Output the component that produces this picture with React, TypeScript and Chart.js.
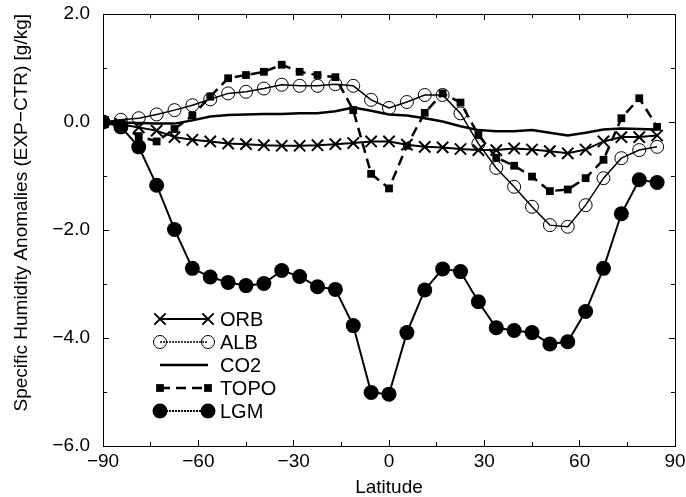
import React, { useEffect, useRef } from "react";
import { Chart, registerables } from "chart.js";
import { drawPoint } from "chart.js/helpers";

Chart.register(...registerables);

// ---------------- data ----------------
const latitudes = [
  -90, -84.375, -78.75, -73.125, -67.5, -61.875, -56.25, -50.625, -45, -39.375,
  -33.75, -28.125, -22.5, -16.875, -11.25, -5.625, 0, 5.625, 11.25, 16.875,
  22.5, 28.125, 33.75, 39.375, 45, 50.625, 56.25, 61.875, 67.5, 73.125, 78.75, 84.375,
];

const orbValues = [
  0, -0.04, -0.1, -0.16, -0.28, -0.33, -0.36, -0.4, -0.41, -0.43,
  -0.44, -0.44, -0.43, -0.41, -0.39, -0.36, -0.36, -0.42, -0.46, -0.47,
  -0.5, -0.52, -0.52, -0.49, -0.51, -0.54, -0.58, -0.51, -0.36, -0.28, -0.28, -0.25,
];

const albValues = [
  0, 0.04, 0.07, 0.14, 0.22, 0.31, 0.42, 0.53, 0.56, 0.62,
  0.69, 0.67, 0.67, 0.7, 0.67, 0.41, 0.26, 0.37, 0.5, 0.5,
  0.16, -0.4, -0.85, -1.2, -1.57, -1.91, -1.94, -1.54, -1.04, -0.67, -0.52, -0.46,
];

const co2Values = [
  0, -0.01, -0.02, -0.03, -0.03, 0.03, 0.1, 0.13, 0.14, 0.15,
  0.15, 0.16, 0.16, 0.2, 0.27, 0.21, 0.14, 0.12, 0.07, 0.01,
  -0.08, -0.15, -0.17, -0.17, -0.15, -0.2, -0.25, -0.2, -0.14, -0.12, -0.13, -0.14,
];

const topoValues = [
  0, -0.08, -0.26, -0.36, -0.13, 0.12, 0.47, 0.81, 0.87, 0.93,
  1.06, 0.93, 0.87, 0.83, 0.22, -0.96, -1.23, -0.44, 0.17, 0.53,
  0.36, -0.24, -0.66, -0.81, -1.01, -1.28, -1.25, -1.04, -0.7, 0.07, 0.44, -0.09,
];

const lgmValues = [
  0, -0.09, -0.46, -1.17, -1.99, -2.71, -2.87, -2.97, -3.03, -2.99,
  -2.75, -2.86, -3.05, -3.1, -3.77, -5.01, -5.04, -3.9, -3.11, -2.72,
  -2.77, -3.33, -3.81, -3.86, -3.9, -4.11, -4.07, -3.51, -2.71, -1.7, -1.07, -1.12,
];

const seriesNames = ["ORB", "ALB", "CO2", "TOPO", "LGM"];
const xAxisTitle = "Latitude";
const yAxisTitle = "Specific Humidity Anomalies (EXP\u2212CTR) [g/kg]";
const xRange = [-90, 90];
const yRange = [-6, 2];

// ---------------- helpers ----------------
const FONT = "'Liberation Sans', Arial, Helvetica, sans-serif";
const toPoints = (vals: number[]) => vals.map((v, i) => ({ x: latitudes[i], y: v }));
const minusSign = (s: string) => s.replace("-", "\u2212");

const zeroPad = (s: any) => {
  s.paddingTop = 0;
  s.paddingBottom = 0;
  s.paddingLeft = 0;
  s.paddingRight = 0;
};

const insideLegend = {
  id: "insideLegend",
  afterDatasetsDraw(chart: any) {
    const { ctx, chartArea } = chart;
    const x0 = chartArea.left + 57;
    const x1 = chartArea.left + 105;
    const tx = chartArea.left + 117;
    const y0 = chartArea.top + 305;
    const step = 23;
    chart.data.datasets.forEach((ds: any, i: number) => {
      const y = y0 + i * step;
      ctx.save();
      ctx.strokeStyle = ds.borderColor;
      ctx.lineWidth = ds.borderWidth;
      ctx.setLineDash(ds.legendDash || ds.borderDash || []);
      ctx.beginPath();
      ctx.moveTo(x0, y);
      ctx.lineTo(x1, y);
      ctx.stroke();
      ctx.setLineDash([]);
      if (ds.pointRadius > 0) {
        ctx.fillStyle = ds.pointBackgroundColor;
        ctx.strokeStyle = ds.pointBorderColor;
        ctx.lineWidth = ds.pointBorderWidth;
        const opts = {
          pointStyle: ds.pointStyle,
          radius: ds.pointRadius,
          borderWidth: ds.pointBorderWidth,
          rotation: 0,
        };
        drawPoint(ctx, opts as any, x0, y);
        drawPoint(ctx, opts as any, x1, y);
      }
      ctx.fillStyle = "#000";
      ctx.font = `20px ${FONT}`;
      ctx.textAlign = "left";
      ctx.textBaseline = "middle";
      ctx.fillText(ds.label, tx, y + 1);
      ctx.restore();
    });
  },
};

function tickAxis(position: string, step: number, len: number, weight: number, extra: any = {}) {
  const horizontal = position === "top" || position === "bottom";
  return {
    type: "linear",
    position,
    weight,
    min: horizontal ? xRange[0] : yRange[0],
    max: horizontal ? xRange[1] : yRange[1],
    ticks: { stepSize: step, display: false },
    grid: {
      drawOnChartArea: false,
      drawTicks: true,
      tickLength: -len,
      color: "#000",
      tickWidth: 1,
    },
    border: { display: false },
    afterFit: (s: any) => {
      if (horizontal) s.height = 0;
      else s.width = 0;
      zeroPad(s);
    },
    ...extra,
  };
}

export default function App() {
  const ref = useRef<HTMLCanvasElement>(null);

  useEffect(() => {
    document.body.style.margin = "0";
    const canvas = ref.current;
    if (!canvas) return;

    const chart = new Chart(canvas, {
      type: "line",
      data: {
        datasets: [
          {
            label: seriesNames[0],
            data: toPoints(orbValues),
            borderColor: "#000",
            borderWidth: 2,
            pointStyle: "crossRot",
            pointRadius: 8,
            pointBorderWidth: 2,
            pointBorderColor: "#000",
            pointBackgroundColor: "rgba(0,0,0,0)",
            order: 4,
          },
          {
            label: seriesNames[1],
            data: toPoints(albValues),
            borderColor: "#000",
            borderWidth: 1.5,
            pointStyle: "circle",
            pointRadius: 6.5,
            pointBorderWidth: 1,
            pointBorderColor: "#000",
            pointBackgroundColor: "rgba(0,0,0,0)",
            legendDash: [2, 1],
            order: 3,
          },
          {
            label: seriesNames[2],
            data: toPoints(co2Values),
            borderColor: "#000",
            borderWidth: 2.5,
            pointRadius: 0,
            order: 2,
          },
          {
            label: seriesNames[3],
            data: toPoints(topoValues),
            borderColor: "#000",
            borderWidth: 2.5,
            borderDash: [10, 6],
            pointStyle: "rect",
            pointRadius: 5.5,
            pointBorderWidth: 0,
            pointBorderColor: "#000",
            pointBackgroundColor: "#000",
            order: 1,
          },
          {
            label: seriesNames[4],
            data: toPoints(lgmValues),
            borderColor: "#000",
            borderWidth: 2,
            pointStyle: "circle",
            pointRadius: 7.5,
            pointBorderWidth: 0,
            pointBorderColor: "#000",
            pointBackgroundColor: "#000",
            legendDash: [2, 1],
            order: 0,
          },
        ] as any,
      },
      options: {
        responsive: false,
        animation: false,
        devicePixelRatio: 1,
        layout: { padding: { top: 14, right: 11, left: 0, bottom: 0 } },
        plugins: {
          legend: { display: false },
          tooltip: { enabled: false },
        },
        elements: { line: { tension: 0 } },
        scales: {
          x: {
            type: "linear",
            position: "bottom",
            weight: 0,
            min: xRange[0],
            max: xRange[1],
            ticks: {
              stepSize: 30,
              color: "#000",
              padding: 10,
              font: { family: FONT, size: 19 },
              callback: (v: any) => minusSign(String(v)),
            },
            grid: { drawOnChartArea: false, tickLength: -6, color: "#000" },
            border: { display: true, color: "#000", width: 1 },
            title: {
              display: true,
              text: xAxisTitle,
              color: "#000",
              font: { family: FONT, size: 19, lineHeight: 1.0 },
              padding: { top: 0, bottom: 0 },
            },
            afterFit: (s: any) => {
              s.height = 51;
              zeroPad(s);
            },
          },
          xMinor: tickAxis("bottom", 15, 4, -1),
          xTop: tickAxis("top", 30, 6, 0, { border: { display: true, color: "#000", width: 1 } }),
          xTopMinor: tickAxis("top", 15, 4, -1),
          y: {
            type: "linear",
            position: "left",
            weight: 0,
            min: yRange[0],
            max: yRange[1],
            ticks: {
              stepSize: 2,
              color: "#000",
              padding: 19,
              font: { family: FONT, size: 19 },
              callback: (v: any) => minusSign(Number(v).toFixed(1)),
            },
            grid: { drawOnChartArea: false, tickLength: -6, color: "#000" },
            border: { display: true, color: "#000", width: 1 },
            title: {
              display: true,
              text: yAxisTitle,
              align: "end",
              color: "#000",
              font: { family: FONT, size: 19 },
              padding: { top: 10.5, bottom: 0 },
            },
            afterFit: (s: any) => {
              s.width = 103;
              zeroPad(s);
            },
          },
          yMinor: tickAxis("left", 1, 4, -1),
          yRight: tickAxis("right", 2, 6, 0, { border: { display: true, color: "#000", width: 1 } }),
          yRightMinor: tickAxis("right", 1, 4, -1),
        } as any,
      },
      plugins: [insideLegend],
    } as any);

    return () => chart.destroy();
  }, []);

  return (
    <div style={{ width: 686, height: 497 }}>
      <canvas ref={ref} width={686} height={497} style={{ display: "block" }} />
    </div>
  );
}
